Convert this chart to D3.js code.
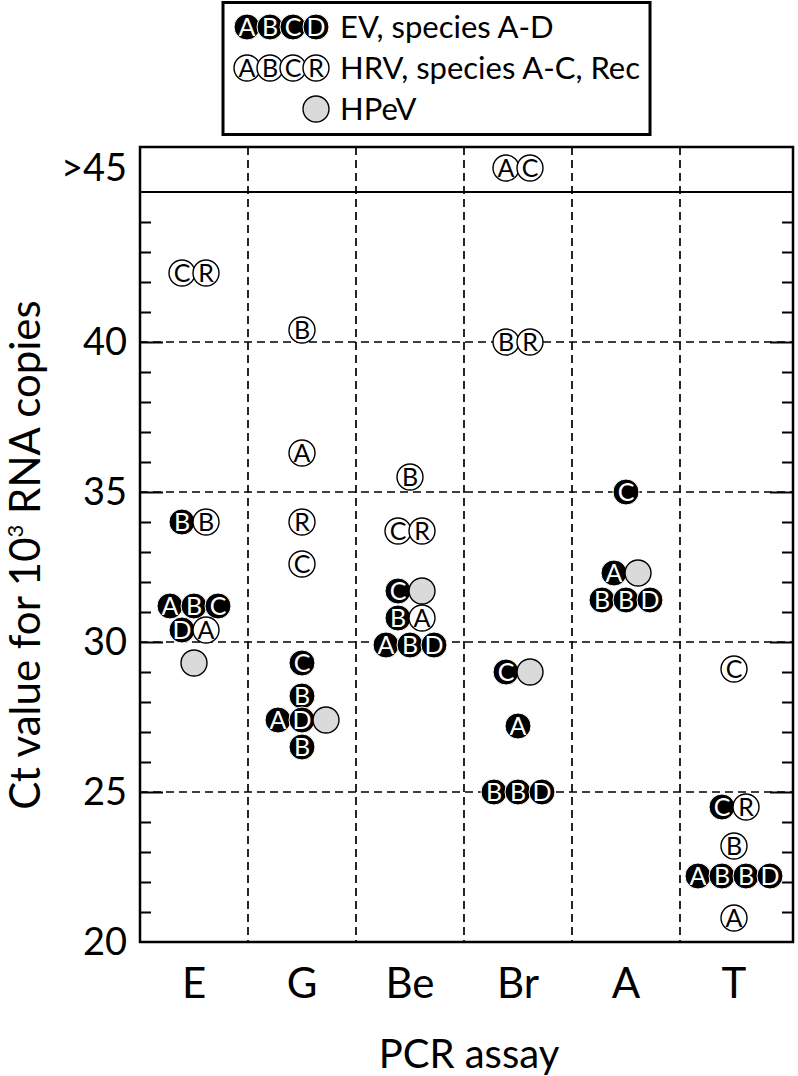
<!DOCTYPE html>
<meta charset="utf-8">
<script src="https://d3js.org/d3.v7.min.js"></script>
<style>
  body { margin: 0; background: #fff; }
  text { font-family: Lato, "Open Sans", sans-serif; fill: #000; }
</style>
<div id="my_dataviz"></div>
<script>

  ////////////////////// Data ////////////////////////////
  var assays = ["E", "G", "Be", "Br", "A", "T"];

  // EV, species A-D : [assay, species, Ct]
  var evPoints = [
    ["E", "B", 34.0], ["E", "A", 31.2], ["E", "B", 31.2], ["E", "C", 31.2], ["E", "D", 30.4],
    ["G", "C", 29.3], ["G", "B", 28.2], ["G", "A", 27.4], ["G", "D", 27.4], ["G", "B", 26.5],
    ["Be", "C", 31.7], ["Be", "B", 30.8], ["Be", "A", 29.9], ["Be", "B", 29.9], ["Be", "D", 29.9],
    ["Br", "C", 29.0], ["Br", "A", 27.2], ["Br", "B", 25.0], ["Br", "B", 25.0], ["Br", "D", 25.0],
    ["A", "C", 35.0], ["A", "A", 32.3], ["A", "B", 31.4], ["A", "B", 31.4], ["A", "D", 31.4],
    ["T", "C", 24.5], ["T", "A", 22.2], ["T", "B", 22.2], ["T", "B", 22.2], ["T", "D", 22.2]
  ];

  // HRV, species A-C, Rec : [assay, species, Ct]  (45.8 = ">45")
  var hrvPoints = [
    ["E", "C", 42.3], ["E", "R", 42.3], ["E", "B", 34.0], ["E", "A", 30.4],
    ["G", "B", 40.4], ["G", "A", 36.3], ["G", "R", 34.0], ["G", "C", 32.6],
    ["Be", "B", 35.5], ["Be", "C", 33.7], ["Be", "R", 33.7], ["Be", "A", 30.8],
    ["Br", "A", 45.8], ["Br", "C", 45.8], ["Br", "B", 40.0], ["Br", "R", 40.0],
    ["T", "C", 29.1], ["T", "R", 24.5], ["T", "B", 23.2], ["T", "A", 20.8]
  ];

  // HPeV : [assay, Ct]
  var hpevPoints = [
    ["E", 29.3], ["G", 27.4], ["Be", 31.7], ["Br", 29.0], ["A", 32.3]
  ];

  var majorTicks = [20, 25, 30, 35, 40];
  var overValue = 45.8;      // where ">45" results are drawn
  var overLabel = ">45";
  var cutLine = 45;

  var legendRows = [
    {kind: "ev", letters: ["A", "B", "C", "D"], label: "EV, species A-D"},
    {kind: "hrv", letters: ["A", "B", "C", "R"], label: "HRV, species A-C, Rec"},
    {kind: "hpev", letters: [""], label: "HPeV"}
  ];

  ////////////////////// Layout ////////////////////////////
  var width = 798,
      height = 1076;
  var plotLeft = 140, plotRight = 793, plotTop = 147, plotBottom = 942;
  var r = 13, step = 24;

  var svg = d3.select("#my_dataviz")
    .append("svg")
      .attr("width", width)
      .attr("height", height);

  var x = d3.scaleBand()
    .domain(assays)
    .range([plotLeft, plotLeft + 648]);

  var y = d3.scaleLinear()
    .domain([20, 46.5])
    .range([plotBottom, plotTop]);

  // grid : dashed verticals between assays, dashed horizontals at major values
  svg.append("g")
    .selectAll("line")
    .data(assays.slice(1))
    .enter()
    .append("line")
      .attr("x1", function(d){ return x(d); })
      .attr("x2", function(d){ return x(d); })
      .attr("y1", plotTop)
      .attr("y2", plotBottom)
      .attr("stroke", "#000")
      .attr("stroke-width", 1.7)
      .attr("stroke-dasharray", "8,5");

  svg.append("g")
    .selectAll("line")
    .data(majorTicks.slice(1))
    .enter()
    .append("line")
      .attr("x1", plotLeft)
      .attr("x2", plotRight)
      .attr("y1", function(d){ return y(d); })
      .attr("y2", function(d){ return y(d); })
      .attr("stroke", "#000")
      .attr("stroke-width", 1.7)
      .attr("stroke-dasharray", "8,5");

  // solid line separating the ">45" row
  svg.append("line")
    .attr("x1", plotLeft).attr("x2", plotRight)
    .attr("y1", y(cutLine)).attr("y2", y(cutLine))
    .attr("stroke", "#000")
    .attr("stroke-width", 2);

  // ticks (inside) on both sides
  var minorValues = d3.range(21, cutLine).filter(function(d){ return majorTicks.indexOf(d) < 0; });

  function styleAxis(g) {
    g.select(".domain").remove();
    g.selectAll("line").attr("stroke", "#000").attr("stroke-width", 2);
  }

  svg.append("g")
    .attr("transform", "translate(" + plotLeft + ",0)")
    .call(d3.axisLeft(y).tickValues(minorValues).tickSize(-11).tickFormat(""))
    .call(styleAxis);

  svg.append("g")
    .attr("transform", "translate(" + plotRight + ",0)")
    .call(d3.axisRight(y).tickValues(minorValues).tickSize(-11).tickFormat(""))
    .call(styleAxis);

  svg.append("g")
    .attr("transform", "translate(" + plotRight + ",0)")
    .call(d3.axisRight(y).tickValues(majorTicks.slice(1)).tickSize(-23).tickFormat(""))
    .call(styleAxis);

  var yAxis = svg.append("g")
    .attr("transform", "translate(" + plotLeft + ",0)")
    .call(d3.axisLeft(y).tickValues(majorTicks.concat([overValue])).tickSize(-23).tickPadding(13)
      .tickFormat(function(d){ return d === overValue ? overLabel : d; }))
    .call(styleAxis);

  yAxis.selectAll(".tick")
    .filter(function(d){ return d === overValue || d === 20; })
    .select("line").remove();

  yAxis.selectAll("text")
    .attr("font-family", "Lato, sans-serif")
    .attr("font-size", 38)
    .attr("fill", "#000");

  // x axis labels
  var xAxis = svg.append("g")
    .attr("transform", "translate(0," + plotBottom + ")")
    .call(d3.axisBottom(x).tickSize(0).tickPadding(26));
  xAxis.select(".domain").remove();
  xAxis.selectAll("text")
    .attr("font-family", "Lato, sans-serif")
    .attr("font-size", 42)
    .attr("fill", "#000");

  // frame
  svg.append("rect")
    .attr("x", plotLeft)
    .attr("y", plotTop)
    .attr("width", plotRight - plotLeft)
    .attr("height", plotBottom - plotTop)
    .attr("fill", "none")
    .attr("stroke", "#000")
    .attr("stroke-width", 2.5);

  // axis titles
  svg.append("text")
    .attr("x", 469)
    .attr("y", 1068)
    .attr("text-anchor", "middle")
    .attr("font-size", 40)
    .text("PCR assay");

  var yTitle = svg.append("text")
    .attr("transform", "translate(40,555) rotate(-90)")
    .attr("text-anchor", "middle")
    .attr("font-size", 42);
  yTitle.append("tspan").text("Ct value for 10");
  yTitle.append("tspan").attr("font-size", 22).attr("dy", -17).text("3");
  yTitle.append("tspan").attr("dy", 17).text(" RNA copies");

  ////////////////////// Points ////////////////////////////
  var points = []
    .concat(evPoints.map(function(d){ return {assay: d[0], letter: d[1], ct: d[2], kind: "ev"}; }))
    .concat(hrvPoints.map(function(d){ return {assay: d[0], letter: d[1], ct: d[2], kind: "hrv"}; }))
    .concat(hpevPoints.map(function(d){ return {assay: d[0], letter: "", ct: d[1], kind: "hpev"}; }));

  // side by side when same assay and same Ct
  d3.group(points, function(d){ return d.assay + "|" + d.ct; })
    .forEach(function(g){
      g.forEach(function(d, i){ d.slot = i - (g.length - 1) / 2; });
    });

  var fills = {ev: "#000", hrv: "#fff", hpev: "#dadada"};
  var strokes = {ev: "#fff", hrv: "#000", hpev: "#000"};
  var letterFill = {ev: "#fff", hrv: "#000", hpev: "#000"};

  function drawMarker(sel) {
    sel.append("circle")
      .attr("r", r)
      .attr("fill", function(d){ return fills[d.kind]; })
      .attr("stroke", function(d){ return strokes[d.kind]; })
      .attr("stroke-width", function(d){ return d.kind === "ev" ? 1 : 1.4; });
    sel.append("text")
      .attr("text-anchor", "middle")
      .attr("dy", "0.36em")
      .attr("font-size", 25)
      .style("fill", function(d){ return letterFill[d.kind]; })
      .text(function(d){ return d.letter; });
  }

  svg.append("g")
    .selectAll("g")
    .data(points)
    .enter()
    .append("g")
      .attr("transform", function(d){
        return "translate(" + (x(d.assay) + x.bandwidth() / 2 + d.slot * step) + "," + y(d.ct) + ")";
      })
      .call(drawMarker);

  ////////////////////// Legend ////////////////////////////
  var legend = svg.append("g");

  var legendBox = legend.append("rect")
    .attr("x", 223)
    .attr("y", 2.5)
    .attr("height", 132)
    .attr("fill", "#fff")
    .attr("stroke", "#000")
    .attr("stroke-width", 3);

  var rows = legend.selectAll(".legends")
    .data(legendRows)
    .enter()
    .append("g")
      .classed("legends", true)
      .attr("transform", function(d, i){ return "translate(0," + (27 + i * 41) + ")"; });

  rows.selectAll("g")
    .data(function(d){
      return d.letters.map(function(l, i){ return {kind: d.kind, letter: l, i: i, n: d.letters.length}; });
    })
    .enter()
    .append("g")
      .attr("transform", function(d){ return "translate(" + (316 - (d.n - 1 - d.i) * 23) + ",0)"; })
      .call(drawMarker);

  var labels = rows.append("text")
    .attr("x", 340)
    .attr("dy", "0.36em")
    .attr("font-size", 31)
    .text(function(d){ return d.label; });

  // box wide enough for the longest label
  var textRight = d3.max(labels.nodes(), function(n){ return 340 + n.getComputedTextLength(); });
  legendBox.attr("width", textRight + 10 - 223);

</script>
